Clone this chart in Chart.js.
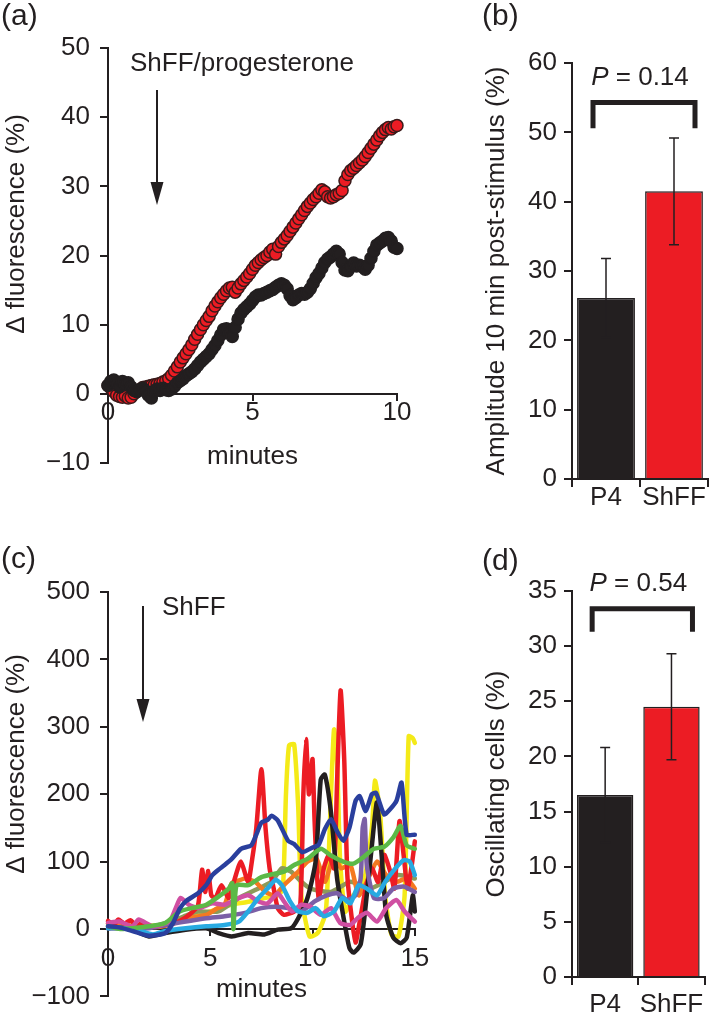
<!DOCTYPE html>
<html lang="en">
<head>
<meta charset="UTF-8">
<title>ShFF and progesterone calcium responses</title>
<script src="https://cdn.jsdelivr.net/npm/chart.js"></script>
<style>
  body { margin: 0; background: #fff; }
  #fig { position: relative; width: 711px; height: 1022px; }
  #fig canvas { position: absolute; }
</style>
</head>
<body>
<div id="fig">
  <canvas id="panelA" width="440" height="520" style="left:0;top:0;width:440px;height:520px"></canvas>
  <canvas id="panelB" width="271" height="520" style="left:440px;top:0;width:271px;height:520px"></canvas>
  <canvas id="panelC" width="440" height="502" style="left:0;top:520px;width:440px;height:502px"></canvas>
  <canvas id="panelD" width="271" height="502" style="left:440px;top:520px;width:271px;height:502px"></canvas>
</div>
<script>
const INK = '#231f20';
const RED = '#ec1c24';
const FONT = '"Liberation Sans", Arial, Helvetica, sans-serif';

// (a) mean responses, minutes vs % change
const timeA = [0.0, 0.1, 0.2, 0.3, 0.4, 0.5, 0.6, 0.7, 0.8, 0.9,
  1.0, 1.1, 1.2, 1.3, 1.4, 1.5, 1.6, 1.7, 1.8, 1.9,
  2.0, 2.1, 2.2, 2.3, 2.4, 2.5, 2.6, 2.7, 2.8, 2.9,
  3.0, 3.1, 3.2, 3.3, 3.4, 3.5, 3.6, 3.7, 3.8, 3.9,
  4.0, 4.1, 4.2, 4.3, 4.4, 4.5, 4.6, 4.7, 4.8, 4.9,
  5.0, 5.1, 5.2, 5.3, 5.4, 5.5, 5.6, 5.7, 5.8, 5.9,
  6.0, 6.1, 6.2, 6.3, 6.4, 6.5, 6.6, 6.7, 6.8, 6.9,
  7.0, 7.1, 7.2, 7.3, 7.4, 7.5, 7.6, 7.7, 7.8, 7.9,
  8.0, 8.1, 8.2, 8.3, 8.4, 8.5, 8.6, 8.7, 8.8, 8.9,
  9.0, 9.1, 9.2, 9.3, 9.4, 9.5, 9.6, 9.7, 9.8, 9.9, 10.0];
const shffA = [1.2, 0.8, 0.3, -0.2, -0.4, -0.5, -0.3, -0.6, -0.5, 0.0,
  0.4, 0.6, 0.9, 1.0, 1.1, 1.2, 1.3, 1.4, 1.5, 1.7,
  1.9, 2.2, 2.7, 3.3, 3.9, 4.6, 5.2, 5.8, 6.4, 7.1,
  7.9, 8.6, 9.3, 10.0, 10.6, 11.2, 12.0, 12.7, 13.3, 13.9,
  14.4, 14.9, 15.3, 15.4, 14.7, 15.3, 15.9, 16.4, 16.9, 17.4,
  18.0, 18.6, 19.0, 19.4, 19.7, 20.0, 20.5, 20.9, 20.2, 21.3,
  21.9, 22.4, 22.9, 23.5, 24.1, 24.7, 25.3, 25.9, 26.5, 27.1,
  27.6, 28.1, 28.5, 29.0, 29.5, 29.2, 28.5, 28.3, 28.5, 28.8,
  29.0, 29.4, 30.8, 31.7, 32.3, 32.6, 33.0, 33.4, 33.8, 34.3,
  34.9, 35.5, 36.1, 36.7, 37.3, 37.8, 38.2, 38.5, 38.3, 38.6, 38.8];
const progA = [1.2, 1.8, 2.0, 1.5, 1.0, 1.8, 1.3, 1.6, 1.0, 0.5,
  0.3, 0.6, 0.8, 0.4, -0.2, -0.6, 0.4, 0.7, 0.5, 0.8,
  0.6, 0.5, 0.7, 1.1, 1.6, 1.9, 2.2, 2.6, 2.9, 3.2,
  3.6, 4.1, 4.6, 5.0, 5.4, 5.8, 6.4, 7.0, 7.7, 8.5,
  9.3, 9.4, 8.8, 8.3, 9.6, 10.8, 11.7, 12.2, 12.6, 13.0,
  13.5, 14.0, 14.3, 14.3, 14.5, 14.7, 14.9, 15.1, 15.4, 15.7,
  15.9, 15.7, 15.2, 14.2, 13.6, 13.9, 14.3, 14.5, 14.4, 14.7,
  15.2, 16.0, 16.8, 17.4, 18.2, 19.0, 19.5, 19.8, 20.2, 20.6,
  20.2, 19.0, 17.9, 17.8, 18.4, 18.9, 18.5, 18.6, 18.4, 18.0,
  18.6, 19.6, 20.6, 21.5, 21.8, 22.1, 22.5, 22.6, 22.1, 21.2, 21.0];

// (b) amplitude 10 min after stimulus
const groups = ['P4', 'ShFF'];
const amplitude = [26.1, 41.5];
const amplitudeErr = [5.7, 7.7];
const amplitudeP = 0.14;

// (c) single-cell traces [minutes, %]
const cBlue = [[0,4],[0.6,2],[1.2,-3],[2,-10],[2.8,-6],[3.2,10],[3.5,30],[3.8,41],[4.4,53],[4.8,65],[5.1,80],[5.4,88],[5.7,95],[6.05,104],[6.5,119],[7,124],[7.25,140],[7.5,158],[7.8,162],[8,168],[8.3,161],[8.8,131],[9.1,126],[9.5,114],[10,121],[10.3,125],[10.6,148],[10.9,163],[11.2,145],[11.5,131],[11.8,150],[12.1,190],[12.3,197],[12.6,175],[12.9,200],[13.1,202],[13.5,170],[13.8,178],[14.1,190],[14.35,217],[14.6,140],[15,140]];
const cGreen = [[0,4],[0.6,0],[1.2,1],[2,4],[2.8,9],[3.5,26],[4.1,31],[4.8,36],[5.4,48],[5.9,60],[6.08,68],[6.13,0],[6.2,40],[6.3,65],[6.85,65],[7.5,77],[8.15,82],[8.6,85],[9.1,95],[9.75,104],[10.4,119],[10.9,109],[11.5,100],[12,97],[12.5,107],[13,119],[13.5,122],[13.95,136],[14.3,153],[14.6,124],[15,119]];
const cCyan = [[0,1],[0.6,2],[1.2,-1],[1.7,-4],[2.2,-8],[2.8,-3],[3.8,1],[4.8,4],[5.7,6],[6.4,11],[6.85,26],[7.35,46],[7.8,60],[8.2,73],[8.5,65],[8.9,41],[9.3,26],[9.75,24],[10.15,31],[10.55,19],[11.05,26],[11.45,46],[11.85,38],[12.25,65],[12.65,60],[13.15,50],[13.55,70],[14.05,90],[14.45,102],[14.75,100],[15,80]];
const cMagenta = [[0,9],[0.55,11],[1.2,4],[1.5,14],[2.2,4],[3,11],[3.3,30],[3.55,46],[3.95,36],[4.45,31],[5.1,38],[5.7,36],[6.4,46],[6.85,50],[7.35,41],[7.8,38],[8.3,53],[8.6,41],[9,26],[9.45,36],[9.9,33],[10.4,21],[10.9,31],[11.35,9],[11.85,6],[12.2,16],[12.65,24],[13.15,11],[13.6,31],[14.1,43],[14.5,26],[15,11]];
const cPurple = [[0,1],[1,1],[2,1],[2.8,6],[3.8,11],[4.8,16],[5.7,19],[6.7,24],[7.5,31],[8.15,33],[8.8,31],[9.45,26],[10.1,41],[10.7,50],[11.2,53],[11.7,43],[12.1,50],[12.35,75],[12.45,150],[12.55,163],[12.65,95],[13,46],[13.5,46],[13.95,60],[14.45,63],[15,55]];
const cBlack = [[0,1],[0.6,2],[1.2,-1],[2,-11],[2.8,-6],[3.8,-1],[4.8,1],[5.4,-6],[6.05,-11],[6.85,-6],[7.65,-8],[8.3,-1],[8.95,1],[9.3,16],[9.75,46],[10.15,100],[10.4,222],[10.6,229],[10.9,173],[11.2,75],[11.55,11],[11.8,-28],[12,-35],[12.35,-23],[12.65,50],[12.9,124],[13.15,188],[13.4,100],[13.6,21],[13.95,-13],[14.3,-21],[14.6,-13],[14.9,50],[15,26]];
const cRed = [[0,12],[0.3,6],[0.5,14],[0.8,8],[1.1,13],[1.4,5],[1.7,9],[2.1,3],[2.5,5],[3,7],[3.5,12],[4,22],[4.4,35],[4.6,88],[4.75,55],[4.9,86],[5.05,50],[5.25,46],[5.55,65],[5.9,46],[6.2,75],[6.5,100],[6.85,70],[7.05,104],[7.25,150],[7.5,237],[7.7,150],[7.9,90],[8.1,60],[8.3,31],[8.6,21],[9.1,26],[9.4,36],[9.55,200],[9.68,282],[9.82,200],[9.92,230],[10,252],[10.1,160],[10.3,45],[10.55,90],[10.8,110],[11.05,90],[11.2,220],[11.37,354],[11.55,250],[11.7,80],[11.9,20],[12.1,-20],[12.3,10],[12.6,60],[12.9,90],[13.2,70],[13.5,110],[13.8,85],[14,60],[14.25,160],[14.45,110],[14.65,60],[14.85,95],[15,130]];
const cOrange = [[0,8],[0.8,4],[1.6,6],[2.4,3],[3.2,8],[3.8,16],[4.8,21],[5.3,30],[5.7,36],[6.05,68],[6.4,72],[6.7,75],[7.2,70],[7.7,55],[8.15,50],[8.6,65],[9.3,85],[9.75,100],[10.2,104],[10.6,70],[11.05,109],[11.4,90],[11.85,95],[12.25,50],[12.65,70],[13.15,100],[13.6,80],[14.1,70],[14.6,75],[15,60]];
const cOlive = [[0,4],[1,2],[2,3],[3,10],[3.8,20],[4.4,26],[5.4,26],[6.4,46],[7.35,60],[8,70],[8.5,90],[8.95,85],[9.45,70],[9.9,60],[10.9,55],[11.85,70],[12.8,60],[13.5,70],[14.2,80],[15,75]];
const cYellow = [[0,8],[1,6],[2,5],[2.8,6],[3.6,12],[4.4,21],[5.2,28],[6,36],[6.8,40],[7.65,46],[8.3,50],[8.55,60],[8.7,200],[8.85,272],[9.1,274],[9.3,180],[9.45,50],[9.85,-11],[10.25,-6],[10.65,26],[10.9,198],[11.05,296],[11.2,247],[11.35,100],[11.6,26],[12,50],[12.5,70],[12.9,149],[13.05,220],[13.3,173],[13.55,50],[13.85,-8],[14.2,-11],[14.5,50],[14.7,286],[14.9,283],[15,276]];

// (d) oscillating cells
const oscillating = [16.5, 24.5];
const oscillatingErr = [4.3, 4.8];
const oscillatingP = 0.54;

Chart.defaults.font.family = FONT;
Chart.defaults.font.size = 26;
Chart.defaults.color = INK;
Chart.defaults.animation = false;
Chart.defaults.plugins.legend.display = false;
Chart.defaults.plugins.tooltip.enabled = false;

const minus = v => String(v).replace('-', '\u2212');

function axisGrid(len) {
  return { drawOnChartArea: false, tickLength: len, color: INK, lineWidth: 2 };
}
const axisBorder = { color: INK, width: 2 };

function label(c, txt, x, y, size) {
  c.font = size + 'px ' + FONT;
  c.fillStyle = INK;
  c.textAlign = 'left';
  c.textBaseline = 'middle';
  c.fillText(txt, x, y);
}

function vText(c, txt, x, y) {
  c.save();
  c.translate(x, y);
  c.rotate(-Math.PI / 2);
  c.font = '26px ' + FONT;
  c.fillStyle = INK;
  c.textAlign = 'center';
  c.textBaseline = 'middle';
  c.fillText(txt, 0, 0);
  c.restore();
}

function arrow(c, x, y0, y1) {
  c.strokeStyle = INK;
  c.fillStyle = INK;
  c.lineWidth = 2;
  c.beginPath();
  c.moveTo(x, y0);
  c.lineTo(x, y1 - 20);
  c.stroke();
  c.beginPath();
  c.moveTo(x - 6.5, y1 - 23);
  c.lineTo(x + 6.5, y1 - 23);
  c.lineTo(x, y1);
  c.closePath();
  c.fill();
}

function errorBars(chart, errs) {
  const c = chart.ctx, xs = chart.scales.x, ys = chart.scales.y;
  const vals = chart.data.datasets[0].data;
  c.strokeStyle = INK;
  c.lineWidth = 1.5;
  vals.forEach((v, i) => {
    const px = xs.getPixelForValue(i);
    const hi = ys.getPixelForValue(v + errs[i]);
    const lo = ys.getPixelForValue(v - errs[i]);
    c.beginPath();
    c.moveTo(px, lo); c.lineTo(px, hi);
    c.moveTo(px - 5, hi); c.lineTo(px + 5, hi);
    c.moveTo(px - 5, lo); c.lineTo(px + 5, lo);
    c.stroke();
  });
}

function bracket(chart, top, foot, p) {
  const c = chart.ctx, xs = chart.scales.x, ys = chart.scales.y;
  const l = xs.getPixelForValue(0) - 13, r = xs.getPixelForValue(1) + 21;
  const yt = ys.getPixelForValue(top), yf = ys.getPixelForValue(foot);
  c.strokeStyle = INK;
  c.lineWidth = 5;
  c.lineJoin = 'miter';
  c.beginPath();
  c.moveTo(l, yf); c.lineTo(l, yt); c.lineTo(r, yt); c.lineTo(r, yf);
  c.stroke();
  // "P = x" with italic P, centred over the bracket
  const mid = (xs.getPixelForValue(0) + xs.getPixelForValue(1)) / 2;
  const rest = ' = ' + p.toFixed(2);
  c.font = 'italic 26px ' + FONT;
  const wp = c.measureText('P').width;
  c.font = '26px ' + FONT;
  const wr = c.measureText(rest).width;
  const x0 = mid - (wp + wr) / 2, ty = yt - 25;
  c.fillStyle = INK;
  c.textBaseline = 'middle';
  c.textAlign = 'left';
  c.font = 'italic 26px ' + FONT;
  c.fillText('P', x0, ty);
  c.font = '26px ' + FONT;
  c.fillText(rest, x0 + wp, ty);
}

const barTicks = { maxRotation: 0, minRotation: 0, autoSkip: false };

// (a)
new Chart(document.getElementById('panelA'), {
  type: 'scatter',
  data: {
    datasets: [
      { label: 'P4', data: timeA.map((t, i) => ({ x: t, y: progA[i] })),
        backgroundColor: INK, borderColor: INK, pointRadius: 6, borderWidth: 1.5, clip: false },
      { label: 'ShFF', data: timeA.map((t, i) => ({ x: t, y: shffA[i] })),
        backgroundColor: RED, borderColor: '#3a1a1a', pointRadius: 6, borderWidth: 1.5, clip: false }
    ]
  },
  options: {
    responsive: false,
    layout: { padding: { top: 48, right: 43, bottom: 57, left: 0 } },
    scales: {
      x: {
        type: 'linear', min: 0, max: 10, position: { y: 0 },
        ticks: { stepSize: 5, padding: 0, maxRotation: 0, font: { lineHeight: 1 } },
        grid: axisGrid(6), border: axisBorder,
        title: { display: true, text: 'minutes', padding: 0 },
        afterFit: s => { s.height = 78.6; }
      },
      y: {
        min: -10, max: 50,
        ticks: { stepSize: 10, padding: 10, callback: v => minus(v) },
        grid: axisGrid(8), border: axisBorder,
        afterFit: s => { s.width = 108; }
      }
    }
  },
  plugins: [{
    id: 'decorA',
    afterDraw(chart) {
      const c = chart.ctx;
      c.save();
      label(c, '(a)', 1, 17, 30);
      label(c, 'ShFF/progesterone', 130, 64, 26);
      arrow(c, 157, 90, 205);
      vText(c, '\u0394 fluorescence (%)', 17, 224);
      c.restore();
    }
  }]
});

// (b)
new Chart(document.getElementById('panelB'), {
  type: 'bar',
  data: {
    labels: groups,
    datasets: [{ data: amplitude, backgroundColor: [INK, RED], borderColor: INK, borderWidth: 1.5,
      categoryPercentage: 0.85, barPercentage: 1 }]
  },
  options: {
    responsive: false,
    layout: { padding: { top: 63, right: 3, bottom: 0, left: 0 } },
    scales: {
      x: {
        ticks: Object.assign({ padding: 0, font: { lineHeight: 0.8 } }, barTicks),
        grid: axisGrid(8), border: axisBorder,
        afterFit: s => { s.height = 41; }
      },
      y: {
        min: 0, max: 60,
        ticks: { stepSize: 10, padding: 7 },
        grid: axisGrid(8), border: axisBorder,
        title: { display: true, text: 'Amplitude 10 min post-stimulus (%)', padding: { top: 41.4, bottom: 0 } },
        afterFit: s => { s.width = 132; }
      }
    }
  },
  plugins: [{
    id: 'decorB',
    afterDraw(chart) {
      const c = chart.ctx;
      c.save();
      label(c, '(b)', 42, 17, 30);
      errorBars(chart, amplitudeErr);
      bracket(chart, 54.3, 50.6, amplitudeP);
      c.restore();
    }
  }]
});

// (c)
const traces = [
  [cBlue, '#2a3f9d'], [cGreen, '#5cb947'], [cCyan, '#27aae1'], [cMagenta, '#d04fa2'],
  [cPurple, '#7b5fa6'], [cBlack, INK], [cRed, RED], [cOrange, '#f47920'],
  [cOlive, '#8c9a5a'], [cYellow, '#f4ea18']
];
new Chart(document.getElementById('panelC'), {
  type: 'line',
  data: {
    datasets: traces.map(([pts, col]) => ({
      data: pts.map(([t, v]) => ({ x: t, y: v })),
      borderColor: col, borderWidth: 4.5, pointRadius: 0, tension: 0.2,
      borderJoinStyle: 'round', borderCapStyle: 'round', clip: false
    }))
  },
  options: {
    responsive: false,
    layout: { padding: { top: 72, right: 22, bottom: 23, left: 0 } },
    scales: {
      x: {
        type: 'linear', min: 0, max: 15, position: { y: 0 },
        ticks: { stepSize: 5, padding: 10.7, maxRotation: 0, font: { lineHeight: 1 } },
        grid: axisGrid(6), border: axisBorder,
        title: { display: true, text: 'minutes', padding: 0 },
        afterFit: s => { s.height = 76.6; }
      },
      y: {
        min: -100, max: 500,
        ticks: { stepSize: 100, padding: 10, callback: v => minus(v) },
        grid: axisGrid(8), border: axisBorder,
        afterFit: s => { s.width = 108; }
      }
    }
  },
  plugins: [{
    id: 'decorC',
    afterDraw(chart) {
      const c = chart.ctx;
      c.save();
      label(c, '(c)', 1, 40, 30);
      label(c, 'ShFF', 162, 88, 26);
      arrow(c, 143, 86, 202);
      vText(c, '\u0394 fluorescence (%)', 17, 244);
      c.restore();
    }
  }]
});

// (d)
new Chart(document.getElementById('panelD'), {
  type: 'bar',
  data: {
    labels: groups,
    datasets: [{ data: oscillating, backgroundColor: [INK, RED], borderColor: INK, borderWidth: 1.5,
      categoryPercentage: 0.85, barPercentage: 1 }]
  },
  options: {
    responsive: false,
    layout: { padding: { top: 71, right: 3, bottom: 0, left: 0 } },
    scales: {
      x: {
        ticks: Object.assign({ padding: 7, font: { lineHeight: 1 } }, barTicks),
        grid: axisGrid(8), border: axisBorder,
        afterFit: s => { s.height = 45; }
      },
      y: {
        min: 0, max: 35,
        ticks: { stepSize: 5, padding: 7 },
        grid: axisGrid(8), border: axisBorder,
        title: { display: true, text: 'Oscillating cells (%)', padding: { top: 41.4, bottom: 0 } },
        afterFit: s => { s.width = 132; }
      }
    }
  },
  plugins: [{
    id: 'decorD',
    afterDraw(chart) {
      const c = chart.ctx;
      c.save();
      label(c, '(d)', 42, 42, 30);
      errorBars(chart, oscillatingErr);
      bracket(chart, 33.4, 31.3, oscillatingP);
      c.restore();
    }
  }]
});
</script>
</body>
</html>
